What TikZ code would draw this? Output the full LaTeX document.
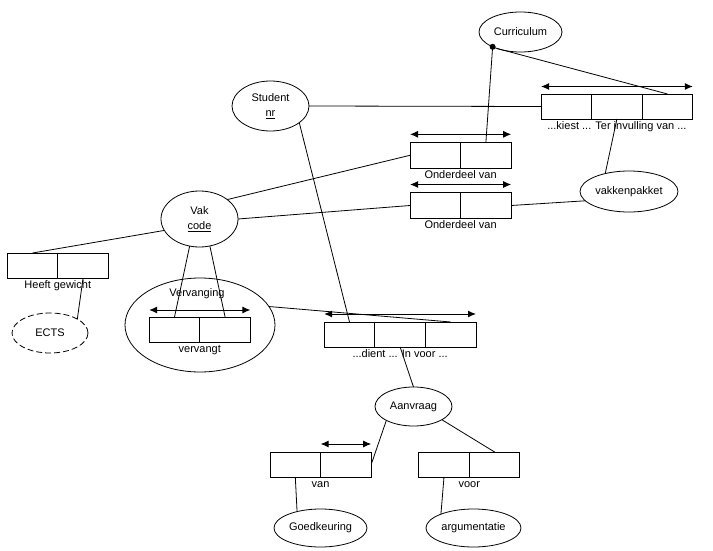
\documentclass[tikz,border=0pt]{standalone}
\usepackage{fontspec}
\setmainfont{Liberation Sans}
\usetikzlibrary{arrows.meta,shapes.geometric}
\begin{document}
\begin{tikzpicture}[x=1pt,y=-1pt,
  every node/.style={font=\fontsize{11}{15}\selectfont},
  ent/.style={draw, ellipse, inner sep=0pt, outer sep=0pt, line width=0.8pt, align=center},
  cell/.style={draw, rectangle, minimum width=50.6pt, minimum height=25pt, inner sep=0pt, outer sep=0pt, line width=0.9pt},
  lbl/.style={inner sep=0pt, text height=8pt, text depth=2.5pt, anchor=north},
  conn/.style={line width=0.8pt},
  dbl/.style={line width=1pt, >={Latex[length=8pt,width=7pt]}, <->}
]
\useasboundingbox (0,0) rectangle (713,551);

% entities
\node[ent, minimum width=83pt, minimum height=40pt] (cur) at (520.5,32) {Curriculum};
\node[ent, minimum width=77pt, minimum height=50pt] (stu) at (270.5,106) {Student\\\underline{nr}};
\node[ent, minimum width=77pt, minimum height=56pt] (vak) at (199.5,219) {Vak\\\underline{code}};
\node[ent, minimum width=98pt, minimum height=41pt] (vkp) at (629,191.5) {vakkenpakket};
\node[ent, dash pattern=on 6pt off 3pt, minimum width=76pt, minimum height=40pt] (ects) at (50,333) {ECTS};
\node[ent, minimum width=150pt, minimum height=94pt] (verv) at (200,325) {};
\node[anchor=base, inner sep=0pt] (vervt) at (197,296) {Vervanging};
\node[ent, minimum width=77pt, minimum height=39pt] (aan) at (413.5,406.5) {Aanvraag};
\node[ent, minimum width=93pt, minimum height=38pt] (goed) at (320.5,528) {Goedkeuring};
\node[ent, minimum width=95pt, minimum height=38pt] (arg) at (473.5,528) {argumentatie};

% kiest / ter invulling van
\node[cell] (k1) at (566.3,106.5) {};
\node[cell, anchor=west] (k2) at (k1.east) {};
\node[cell, anchor=west] (k3) at (k2.east) {};
\node[lbl] (kl) at ([yshift=-2pt]k2.south) {...kiest ... Ter invulling van ...};
\draw[dbl] ([yshift=7.5pt]k1.north west) -- ([yshift=7.5pt]k3.north east);

% onderdeel van (upper)
\node[cell, minimum height=26pt] (o1a) at (435.3,155.3) {};
\node[cell, minimum height=26pt, anchor=west] (o1b) at (o1a.east) {};
\node[lbl] (o1l) at ([yshift=-2pt]o1a.south east) {Onderdeel van};
\draw[dbl] ([yshift=8pt]o1a.north west) -- ([yshift=8pt]o1b.north east);

% onderdeel van (lower)
\node[cell, minimum height=26pt] (o2a) at (435.3,205.5) {};
\node[cell, minimum height=26pt, anchor=west] (o2b) at (o2a.east) {};
\node[lbl] (o2l) at ([yshift=-2pt]o2a.south east) {Onderdeel van};
\draw[dbl] ([yshift=8pt]o2a.north west) -- ([yshift=8pt]o2b.north east);

% heeft gewicht
\node[cell] (h1) at (32.5,265.5) {};
\node[cell, anchor=west] (h2) at (h1.east) {};
\node[lbl] (hl) at ([yshift=-2pt]h1.south east) {Heeft gewicht};

% vervangt
\node[cell] (v1) at (174.5,329.5) {};
\node[cell, anchor=west] (v2) at (v1.east) {};
\node[lbl] (vl) at ([yshift=-2.5pt]v1.south east) {vervangt};
\draw[dbl] ([yshift=7pt]v1.north west) -- ([yshift=7pt]v2.north east);

% dient ... in voor
\node[cell] (d1) at (349.5,334.5) {};
\node[cell, anchor=west] (d2) at (d1.east) {};
\node[cell, anchor=west] (d3) at (d2.east) {};
\node[lbl] (dl) at ([yshift=-2pt]d2.south) {...dient ... In voor ...};
\draw[dbl] ([yshift=8pt]d1.north west) -- ([yshift=8pt]d3.north east);

% van
\node[cell] (va1) at (295.3,464.5) {};
\node[cell, anchor=west] (va2) at (va1.east) {};
\node[lbl] (val) at ([yshift=-2pt]va1.south east) {van};
\draw[dbl] ([yshift=8pt]va2.north west) -- ([yshift=8pt]va2.north east);

% voor
\node[cell] (vo1) at (444,464.5) {};
\node[cell, anchor=west] (vo2) at (vo1.east) {};
\node[lbl] (vol) at ([yshift=-2pt]vo1.south east) {voor};

% connectors
\draw[conn] (stu.east) -- (k1.west);
\draw[conn] (cur.215) -- (k3.north);
\draw[conn] (o1b.north) -- (cur.208);
\fill (cur.208) circle (3pt);
\draw[conn] (vkp.143) -- (k2.south);
\draw[conn] (vak.35) -- (o1a.west);
\draw[conn] (vak.east) -- (o2a.west);
\draw[conn] (o2b.east) -- (vkp.192);
\draw[conn] (vak.198) -- (h1.north);
\draw[conn] (h2.south) -- (ects.27);
\draw[conn] (vak.250) -- (v1.north);
\draw[conn] (vak.291) -- (v2.north);
\draw[conn] (stu.330) -- (d1.north);
\draw[conn] (verv.15) -- (d3.north);
\draw[conn] (aan.north) -- (d2.south);
\draw[conn] (aan.207) -- (va2.east);
\draw[conn] (aan.335) -- (vo2.north);
\draw[conn] (va1.south) -- (goed.145);
\draw[conn] (vo1.south) -- (arg.157);
\end{tikzpicture}
\end{document}
